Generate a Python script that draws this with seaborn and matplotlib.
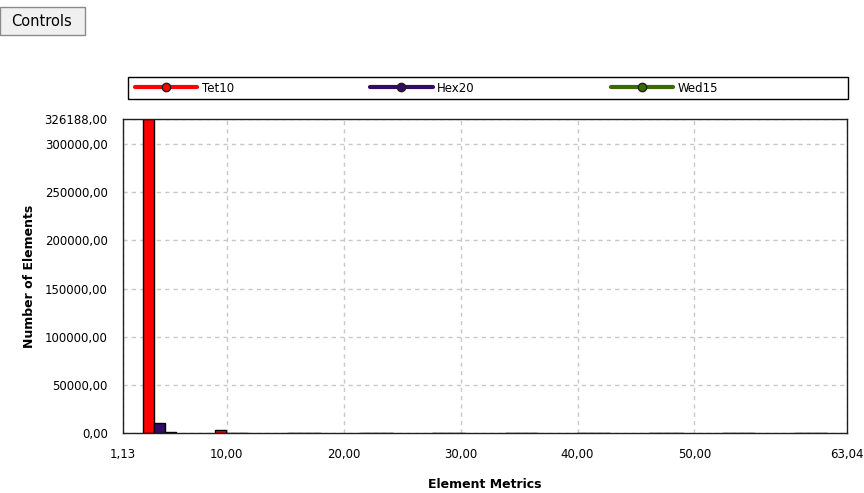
import matplotlib
matplotlib.use("Agg")
from matplotlib import pyplot as plt
from matplotlib.lines import Line2D
from matplotlib.patches import Rectangle
import pandas as pd
import seaborn as sns

# Element metrics histogram, 10 bins between 1.13 and 63.04

bin_centers = [4.23, 10.42, 16.61, 22.80, 28.99, 35.18, 41.37, 47.56, 53.75, 59.94]
tet10 = [326188, 2800, 150, 150, 150, 150, 150, 150, 150, 150]
hex20 = [10800, 400, 150, 150, 150, 150, 150, 150, 150, 150]
wed15 = [900, 300, 150, 150, 150, 150, 150, 150, 150, 150]
element_types = ['Tet10', 'Hex20', 'Wed15']
colors = ['#ff0000', '#330a66', '#3a6b00']
x_ticks = [1.13, 10, 20, 30, 40, 50, 63.04]
y_ticks = [0, 50000, 100000, 150000, 200000, 250000, 300000, 326188]

df = pd.DataFrame({
    'Element Metrics': bin_centers * 3,
    'Number of Elements': tet10 + hex20 + wed15,
    'Type': sum([[t] * len(bin_centers) for t in element_types], []),
})

sns.set_style("white")
plt.rcParams['font.family'] = ['DejaVu Sans']
plt.rcParams['text.color'] = 'black'
plt.rcParams['axes.labelcolor'] = 'black'
plt.rcParams['xtick.labelcolor'] = 'black'
plt.rcParams['ytick.labelcolor'] = 'black'

fig = plt.figure(figsize=(8.64, 4.93), dpi=100)
ax = fig.add_axes([0.1424, 0.1217, 0.8379, 0.6369])

sns.barplot(data=df, x='Element Metrics', y='Number of Elements', hue='Type',
            hue_order=element_types, palette=colors, saturation=1, native_scale=True,
            width=0.46, edgecolor='black', linewidth=1, errorbar=None,
            legend=False, ax=ax)

ax.set_xlim(1.13, 63.04)
ax.set_ylim(0, 326188)
ax.set_xticks(x_ticks)
ax.set_xticklabels([f"{v:.2f}".replace('.', ',') for v in x_ticks], fontsize=8.5)
ax.set_yticks(y_ticks)
ax.set_yticklabels([f"{v:.2f}".replace('.', ',') for v in y_ticks], fontsize=8.5)
ax.tick_params(axis='both', direction='out', length=8, width=1, color='#b0b0b0', pad=3)
ax.grid(True, color='#c8c8c8', linestyle=(0, (3, 3)), linewidth=1)
ax.set_axisbelow(True)
for s in ax.spines.values():
    s.set_visible(True)
    s.set_color('#202020')
    s.set_linewidth(1)

ax.set_xlabel('Element Metrics', fontsize=9, fontweight='bold', labelpad=12)
ax.set_ylabel('Number of Elements', fontsize=9, fontweight='bold', labelpad=6)

# legend box across the top of the plot
fig.patches.append(Rectangle((0.148, 0.799), 0.833, 0.045, transform=fig.transFigure,
                             facecolor='white', edgecolor='black', linewidth=1))
handles = [Line2D([0], [0], color=c, linewidth=3, marker='o', markersize=6,
                  markerfacecolor=c, markeredgecolor='#202020') for c in colors]
fig.legend(handles, element_types, loc='center left', ncol=3,
           bbox_to_anchor=(0.156, 0.8215), fontsize=8.5, frameon=False,
           handlelength=5.3, handletextpad=0.4, columnspacing=11.5,
           borderpad=0, borderaxespad=0)

# "Controls" button at the top left
fig.patches.append(Rectangle((0.0, 0.929), 0.098, 0.057, transform=fig.transFigure,
                             facecolor='#f0f0f0', edgecolor='#8a8a8a', linewidth=1))
fig.text(0.048, 0.957, 'Controls', ha='center', va='center', fontsize=10.5)

plt.savefig('out.png', dpi=100)
